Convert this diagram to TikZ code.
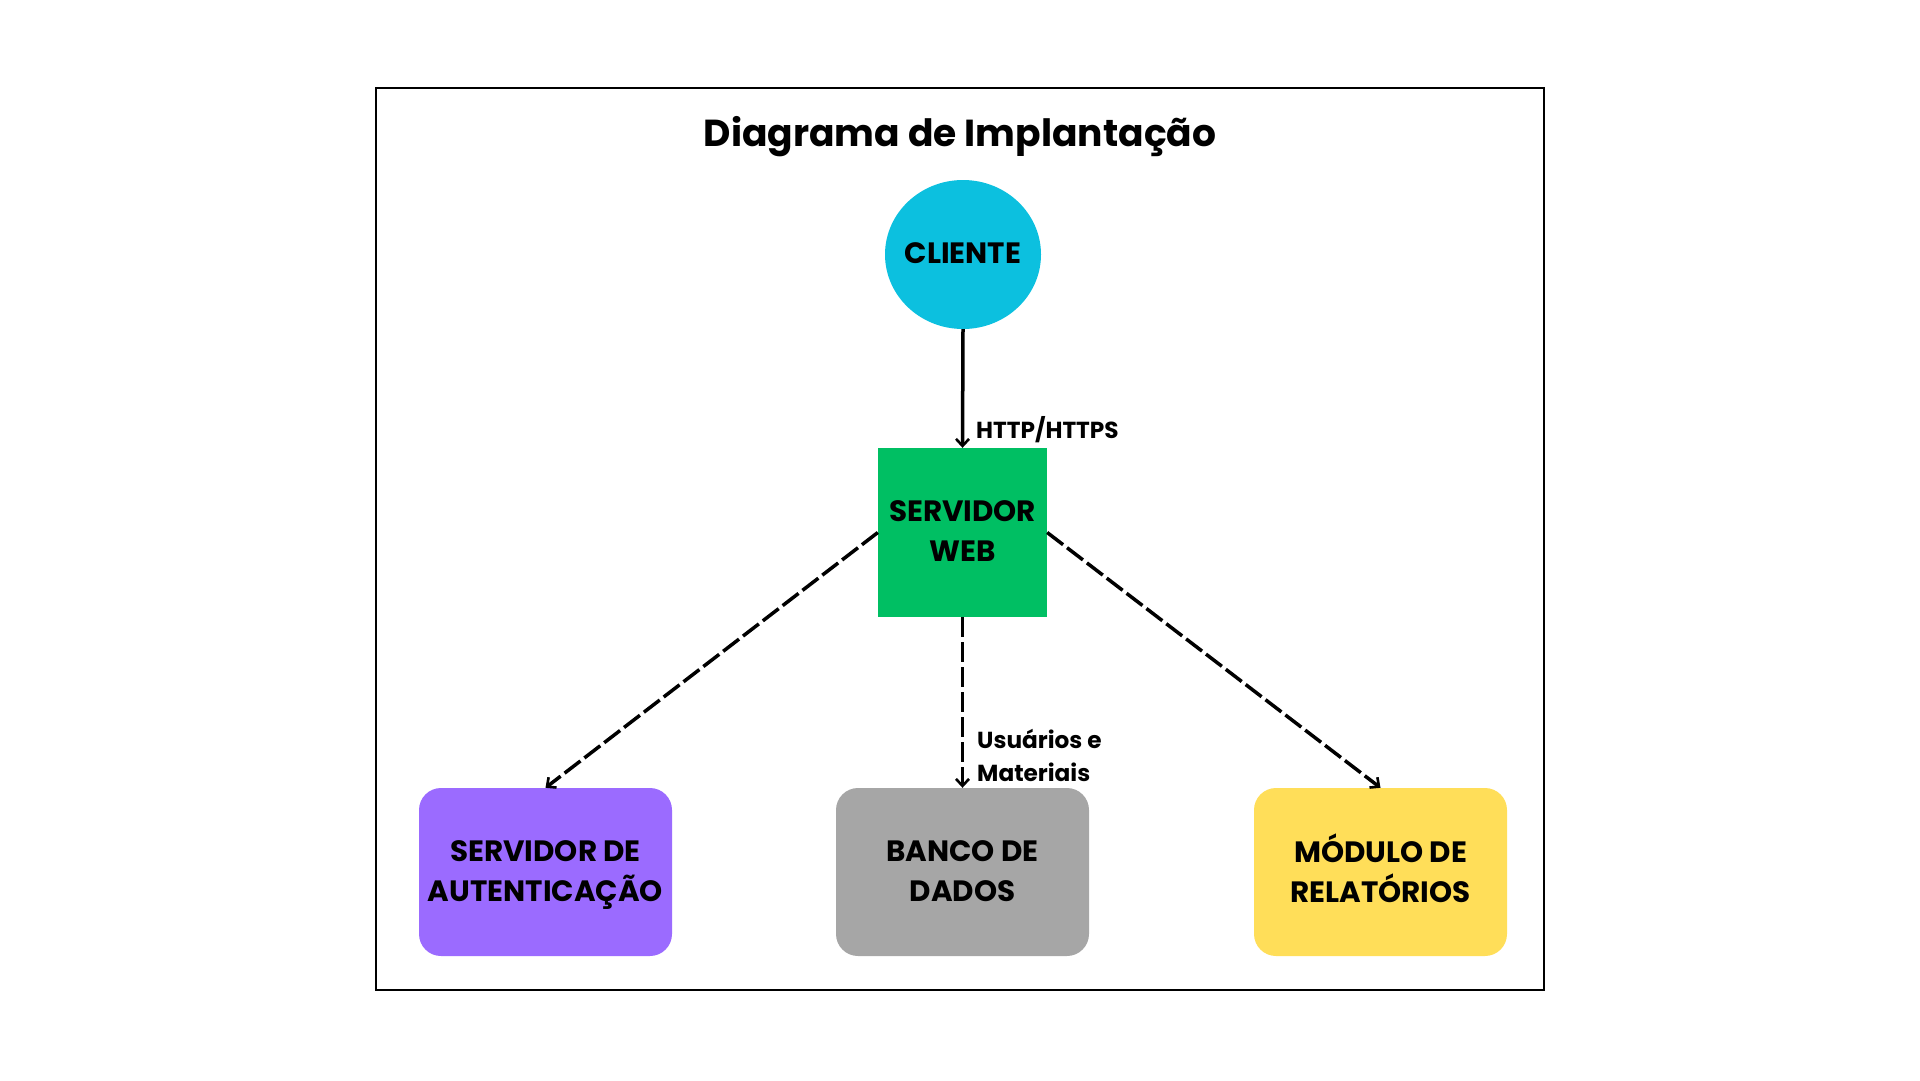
\documentclass[tikz,border=0pt]{standalone}
\usepackage{fontspec}
\setmainfont{Poppins}
\usetikzlibrary{arrows.meta,shapes.geometric}
\definecolor{ccyan}{HTML}{0CC0DF}
\definecolor{cgreen}{HTML}{00BF63}
\definecolor{cpurple}{HTML}{9B6BFF}
\definecolor{cgray}{HTML}{A6A6A6}
\definecolor{cyellow}{HTML}{FFDE59}
\newcommand{\bxl}[1]{\rule[-8pt]{0pt}{34pt}#1}
\tikzset{
  boxtext/.style={font=\bfseries\fontsize{29.4}{40}\selectfont, align=center, text=black},
  roundbox/.style={boxtext, rounded corners=22pt, minimum width=253pt, minimum height=168pt, inner sep=0pt},
  lbl/.style={font=\bfseries\fontsize{23.2}{33}\selectfont, align=left, inner sep=0pt, anchor=base west},
  conn/.style={line width=3.5pt, -{Straight Barb[length=7pt,width=13pt,line width=2.6pt]}},
  dconn/.style={conn, dash pattern=on 20pt off 5pt},
}
\begin{document}
\begin{tikzpicture}[x=1pt,y=-1pt]
\useasboundingbox (0,0) rectangle (1920,1080);
\draw[line width=2pt] (376,88) rectangle (1544,990);
\node[font=\bfseries\fontsize{37.6}{44}\selectfont, anchor=base, inner sep=0pt] (title) at (960,146) {Diagrama de Implantação};
\node[boxtext, ellipse, fill=ccyan, minimum width=156pt, minimum height=149pt, inner sep=0pt] (cli) at (963,254.5) {\makebox[0pt]{\bxl{CLIENTE}}};
\node[boxtext, fill=cgreen, minimum width=169pt, minimum height=169pt, inner sep=0pt] (web) at (962.5,532.5) {\bxl{SERVIDOR}\\\bxl{WEB}};
\node[roundbox, fill=cpurple] (auth) at (545.5,872) {\bxl{SERVIDOR DE}\\\bxl{AUTENTICAÇÃO}};
\node[roundbox, fill=cgray] (db) at (962.5,872) {\bxl{BANCO DE}\\\bxl{DADOS}};
\node[roundbox, fill=cyellow] (rel) at (1380.5,872) {\bxl{MÓDULO DE}\\\bxl{RELATÓRIOS}};
\draw[conn] (cli.south) -- (web.north);
\draw[dconn] (web.west) -- (auth.north);
\draw[dconn] (web.south) -- (db.north);
\draw[dconn] (web.east) -- (rel.north);
\node[lbl] (l1) at (976,438) {HTTP/HTTPS};
\node[lbl] (l2) at (977,781) {Usuários e\\Materiais};
\end{tikzpicture}
\end{document}
